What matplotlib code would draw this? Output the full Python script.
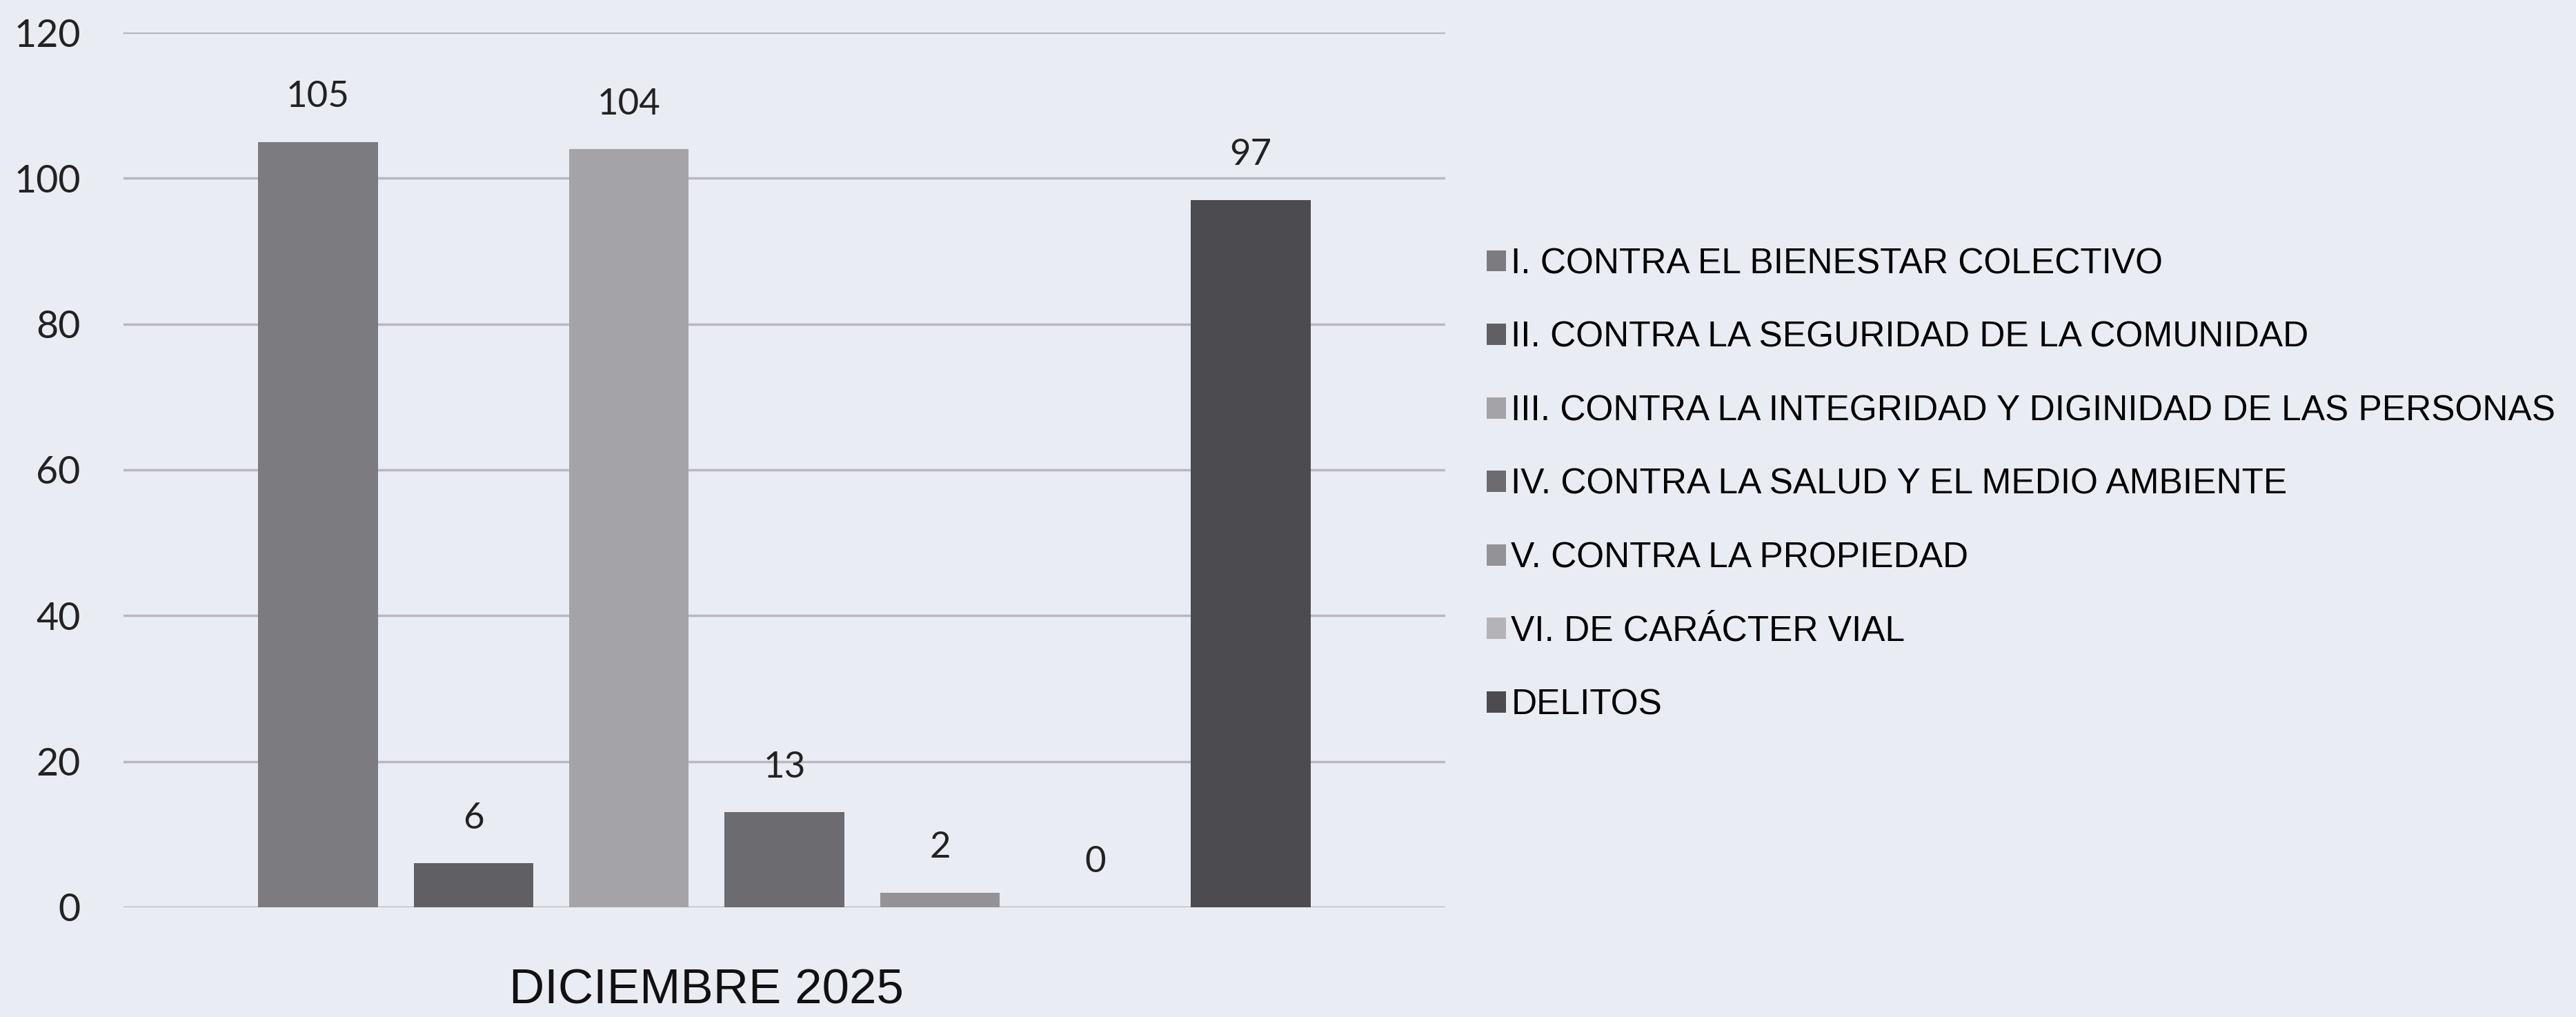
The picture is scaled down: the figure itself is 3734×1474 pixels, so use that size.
import matplotlib
matplotlib.use("Agg")
import matplotlib.pyplot as plt
import numpy as np

# datos del informe
categorias = [
    "I. CONTRA EL BIENESTAR COLECTIVO",
    "II. CONTRA LA SEGURIDAD DE LA COMUNIDAD",
    "III. CONTRA LA INTEGRIDAD Y DIGINIDAD DE LAS PERSONAS",
    "IV. CONTRA LA SALUD Y EL MEDIO AMBIENTE",
    "V. CONTRA LA PROPIEDAD",
    "VI. DE CARÁCTER VIAL",
    "DELITOS",
]
valores = [105, 6, 104, 13, 2, 0, 97]
colores = ["#7b7b80", "#5f5f64", "#a3a3a8", "#6b6b70", "#929297", "#b3b3b8", "#4b4b50"]
periodo = "DICIEMBRE 2025"
yticks = [0, 20, 40, 60, 80, 100, 120]

fondo = "#eaecf3"

fig = plt.figure(figsize=(37.34, 14.74), dpi=100, facecolor=fondo)
ax = fig.add_axes([0.048, 0.108, 0.513, 0.86], facecolor=fondo)

x = np.arange(len(valores))
for i in range(len(valores)):
    barras = ax.bar(x[i], valores[i], width=0.77, color=colores[i], label=categorias[i], zorder=3)
    ax.bar_label(barras, padding=30, fontsize=38, family="Lato", color="#222222")

ax.set_xlim(-1.25, len(valores) + 0.25)
ax.set_ylim(0, 120)
ax.set_yticks(yticks)
ax.set_yticklabels([str(v) for v in yticks], fontsize=40, family="Lato", color="#222222")
ax.set_xticks([2.5])
ax.set_xticklabels([periodo], fontsize=51, family="Liberation Sans", color="#111111")
ax.tick_params(axis="both", length=0)
ax.tick_params(axis="y", pad=45)
ax.tick_params(axis="x", pad=64)
ax.grid(axis="y", color="#b8b8be", linewidth=2.5, zorder=0)
for s in ax.spines.values():
    s.set_visible(False)

ax.legend(loc="upper left", bbox_to_anchor=(0.577, 0.757), bbox_transform=fig.transFigure,
          frameon=False, prop={"family": "Liberation Sans", "size": 37},
          handlelength=0.55, handleheight=0.55, handletextpad=0.15, labelspacing=1.12,
          borderpad=0, borderaxespad=0)

fig.savefig("out.png", dpi=100, facecolor=fondo)
